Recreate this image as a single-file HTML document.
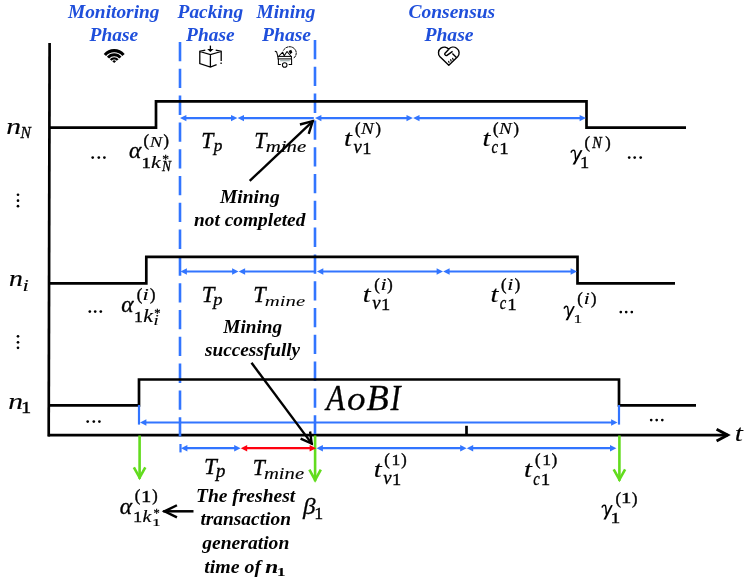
<!DOCTYPE html>
<html><head><meta charset="utf-8"><style>
html,body{margin:0;padding:0;background:#fff;}
svg{display:block;} text{} .g{opacity:0.999;}
</style></head><body>
<svg width="747" height="583" viewBox="0 0 747 583">
<rect width="747" height="583" fill="#fff"/>
<g class="g">
<line x1="49.6" y1="43" x2="48.7" y2="436.4" stroke="#000" stroke-width="2.7" />
<line x1="48.2" y1="435.1" x2="728" y2="435.1" stroke="#000" stroke-width="2.7" />
<polyline points="716.59,429.18 727.71,435.10 716.59,441.02" fill="none" stroke="#000" stroke-width="2.9" stroke-linecap="butt" stroke-linejoin="miter"/>
<line x1="466.5" y1="425.8" x2="466.5" y2="435" stroke="#000" stroke-width="2.7" />
<line x1="180" y1="42" x2="180" y2="436.7" stroke="#3275FF" stroke-width="2.6" stroke-dasharray="19.3 7.5"/>
<line x1="315.0" y1="40" x2="315.0" y2="434.0" stroke="#3275FF" stroke-width="2.6" stroke-dasharray="19.3 7.5"/>
<polyline points="49,127.7 156,127.7 156,101.3 586.5,101.3 586.5,127.7 686,127.7" fill="none" stroke="#000" stroke-width="2.7" stroke-linejoin="miter" />
<polyline points="49,283.3 146.3,283.3 146.3,256.8 577.5,256.8 577.5,283.3 675,283.3" fill="none" stroke="#000" stroke-width="2.7" stroke-linejoin="miter" />
<polyline points="49,405.3 139,405.3 139,379.5 619,379.5 619,405.3 696,405.3" fill="none" stroke="#000" stroke-width="2.7" stroke-linejoin="miter" />
<line x1="139.6" y1="435.5" x2="139.6" y2="478.8" stroke="#62DC1E" stroke-width="2.6" />
<polyline points="145.32,467.30 139.60,477.62 133.88,467.30" fill="none" stroke="#62DC1E" stroke-width="2.6" stroke-linecap="butt" stroke-linejoin="miter"/>
<line x1="315.1" y1="435.5" x2="315.1" y2="481.2" stroke="#62DC1E" stroke-width="2.6" />
<polyline points="320.82,469.70 315.10,480.02 309.38,469.70" fill="none" stroke="#62DC1E" stroke-width="2.6" stroke-linecap="butt" stroke-linejoin="miter"/>
<line x1="619.4" y1="435.5" x2="619.4" y2="480.8" stroke="#62DC1E" stroke-width="2.6" />
<polyline points="625.12,469.30 619.40,479.62 613.68,469.30" fill="none" stroke="#62DC1E" stroke-width="2.6" stroke-linecap="butt" stroke-linejoin="miter"/>
<line x1="185.5" y1="118.1" x2="231.9" y2="118.1" stroke="#3275FF" stroke-width="2.2" />
<polygon points="180,118.1 186.4,114.89999999999999 186.4,121.3" fill="#3275FF"/>
<polygon points="237.4,118.1 231.0,114.89999999999999 231.0,121.3" fill="#3275FF"/>
<line x1="243.1" y1="118.1" x2="313.8" y2="118.1" stroke="#3275FF" stroke-width="2.2" />
<polygon points="237.6,118.1 244.0,114.89999999999999 244.0,121.3" fill="#3275FF"/>
<line x1="320.5" y1="118.1" x2="407.4" y2="118.1" stroke="#3275FF" stroke-width="2.2" />
<polygon points="315,118.1 321.4,114.89999999999999 321.4,121.3" fill="#3275FF"/>
<polygon points="412.9,118.1 406.5,114.89999999999999 406.5,121.3" fill="#3275FF"/>
<line x1="418.6" y1="118.1" x2="580.5" y2="118.1" stroke="#3275FF" stroke-width="2.2" />
<polygon points="413.1,118.1 419.5,114.89999999999999 419.5,121.3" fill="#3275FF"/>
<polygon points="586,118.1 579.6,114.89999999999999 579.6,121.3" fill="#3275FF"/>
<line x1="186.0" y1="271.5" x2="233.0" y2="271.5" stroke="#3275FF" stroke-width="2.2" />
<polygon points="180.5,271.5 186.9,268.3 186.9,274.7" fill="#3275FF"/>
<polygon points="238.5,271.5 232.1,268.3 232.1,274.7" fill="#3275FF"/>
<line x1="244.2" y1="271.5" x2="315" y2="271.5" stroke="#3275FF" stroke-width="2.2" />
<polygon points="238.7,271.5 245.1,268.3 245.1,274.7" fill="#3275FF"/>
<line x1="322.4" y1="271.5" x2="437.5" y2="271.5" stroke="#3275FF" stroke-width="2.2" />
<polygon points="316.9,271.5 323.29999999999995,268.3 323.29999999999995,274.7" fill="#3275FF"/>
<polygon points="443,271.5 436.6,268.3 436.6,274.7" fill="#3275FF"/>
<line x1="448.7" y1="271.5" x2="571.5" y2="271.5" stroke="#3275FF" stroke-width="2.2" />
<polygon points="443.2,271.5 449.59999999999997,268.3 449.59999999999997,274.7" fill="#3275FF"/>
<polygon points="577,271.5 570.6,268.3 570.6,274.7" fill="#3275FF"/>
<line x1="139" y1="405" x2="139" y2="424.6" stroke="#3275FF" stroke-width="2.2" />
<line x1="619" y1="405" x2="619" y2="424.6" stroke="#3275FF" stroke-width="2.2" />
<line x1="145.5" y1="422.5" x2="612.0" y2="422.5" stroke="#3275FF" stroke-width="2.2" />
<polygon points="140,422.5 146.4,419.3 146.4,425.7" fill="#3275FF"/>
<polygon points="617.5,422.5 611.1,419.3 611.1,425.7" fill="#3275FF"/>
<line x1="180.5" y1="444" x2="180.5" y2="452.4" stroke="#3275FF" stroke-width="2.2" />
<line x1="186.5" y1="448.2" x2="235.1" y2="448.2" stroke="#3275FF" stroke-width="2.2" />
<polygon points="181,448.2 187.4,445.0 187.4,451.4" fill="#3275FF"/>
<polygon points="240.6,448.2 234.2,445.0 234.2,451.4" fill="#3275FF"/>
<line x1="246.3" y1="448.2" x2="310.5" y2="448.2" stroke="#FF0010" stroke-width="2.2" />
<polygon points="240.8,448.2 247.20000000000002,445.0 247.20000000000002,451.4" fill="#FF0010"/>
<polygon points="316,448.2 309.6,445.0 309.6,451.4" fill="#FF0010"/>
<line x1="322.0" y1="448.2" x2="461.1" y2="448.2" stroke="#3275FF" stroke-width="2.2" />
<polygon points="316.5,448.2 322.9,445.0 322.9,451.4" fill="#3275FF"/>
<polygon points="466.6,448.2 460.20000000000005,445.0 460.20000000000005,451.4" fill="#3275FF"/>
<line x1="472.3" y1="448.2" x2="610.9" y2="448.2" stroke="#3275FF" stroke-width="2.2" />
<polygon points="466.8,448.2 473.2,445.0 473.2,451.4" fill="#3275FF"/>
<polygon points="616.4,448.2 610.0,445.0 610.0,451.4" fill="#3275FF"/>
<line x1="249.7" y1="180.9" x2="313.4111592863802" y2="120.53171018234963" stroke="#000" stroke-width="2.4" />
<polyline points="299.92,124.50 312.70,121.20 308.72,133.79" fill="none" stroke="#000" stroke-width="2.4" stroke-linecap="butt" stroke-linejoin="miter"/>
<line x1="251.5" y1="362.8" x2="312.30372307190663" y2="444.39721669941446" stroke="#000" stroke-width="2.4" />
<polyline points="310.09,431.53 311.72,443.62 300.60,438.59" fill="none" stroke="#000" stroke-width="2.4" stroke-linecap="butt" stroke-linejoin="miter"/>
<line x1="193.5" y1="511.3" x2="163.2" y2="511.3" stroke="#000" stroke-width="2.5" />
<polyline points="176.95,517.35 164.55,511.30 176.95,505.25" fill="none" stroke="#000" stroke-width="2.5" stroke-linecap="butt" stroke-linejoin="miter"/>
<circle cx="92.7" cy="157.6" r="1.35" fill="#000"/>
<circle cx="98.8" cy="157.6" r="1.35" fill="#000"/>
<circle cx="104.4" cy="157.6" r="1.35" fill="#000"/>
<circle cx="89.8" cy="311.6" r="1.35" fill="#000"/>
<circle cx="95.2" cy="311.6" r="1.35" fill="#000"/>
<circle cx="100.8" cy="311.6" r="1.35" fill="#000"/>
<circle cx="87.7" cy="421.6" r="1.35" fill="#000"/>
<circle cx="93.8" cy="421.6" r="1.35" fill="#000"/>
<circle cx="99.4" cy="421.6" r="1.35" fill="#000"/>
<circle cx="629.2" cy="157.6" r="1.35" fill="#000"/>
<circle cx="634.7" cy="157.6" r="1.35" fill="#000"/>
<circle cx="640.7" cy="157.6" r="1.35" fill="#000"/>
<circle cx="620.8" cy="312.1" r="1.35" fill="#000"/>
<circle cx="626.2" cy="312.1" r="1.35" fill="#000"/>
<circle cx="631.8" cy="312.1" r="1.35" fill="#000"/>
<circle cx="651.2" cy="420.1" r="1.35" fill="#000"/>
<circle cx="656.7" cy="420.1" r="1.35" fill="#000"/>
<circle cx="662.3" cy="420.1" r="1.35" fill="#000"/>
<circle cx="18" cy="194.75" r="1.35" fill="#000"/>
<circle cx="18" cy="200.7" r="1.35" fill="#000"/>
<circle cx="18" cy="206.2" r="1.35" fill="#000"/>
<circle cx="18" cy="336.3" r="1.35" fill="#000"/>
<circle cx="18" cy="342.3" r="1.35" fill="#000"/>
<circle cx="18" cy="347.8" r="1.35" fill="#000"/>
<text transform="translate(67.94,17.90) scale(0.989,1)" font-family="Liberation Serif" font-size="19.60" font-style="italic" font-weight="bold" fill="#1F4FDB" >Monitoring</text>
<text transform="translate(89.50,40.90) scale(0.995,1)" font-family="Liberation Serif" font-size="19.60" font-style="italic" font-weight="bold" fill="#1F4FDB" >Phase</text>
<text transform="translate(177.60,17.70) scale(0.988,1)" font-family="Liberation Serif" font-size="19.60" font-style="italic" font-weight="bold" fill="#1F4FDB" >Packing</text>
<text transform="translate(186.10,40.80) scale(0.991,1)" font-family="Liberation Serif" font-size="19.60" font-style="italic" font-weight="bold" fill="#1F4FDB" >Phase</text>
<text transform="translate(256.54,17.70) scale(0.984,1)" font-family="Liberation Serif" font-size="19.60" font-style="italic" font-weight="bold" fill="#1F4FDB" >Mining</text>
<text transform="translate(262.00,40.80) scale(1.001,1)" font-family="Liberation Serif" font-size="19.60" font-style="italic" font-weight="bold" fill="#1F4FDB" >Phase</text>
<text transform="translate(408.42,17.50) scale(0.996,1)" font-family="Liberation Serif" font-size="19.60" font-style="italic" font-weight="bold" fill="#1F4FDB" >Consensus</text>
<text transform="translate(424.40,40.80) scale(1.005,1)" font-family="Liberation Serif" font-size="19.60" font-style="italic" font-weight="bold" fill="#1F4FDB" >Phase</text>
<text transform="translate(219.94,203.00) scale(1.003,1)" font-family="Liberation Serif" font-size="19.50" font-style="italic" font-weight="bold" fill="#000" >Mining</text>
<text transform="translate(194.11,225.90) scale(0.993,1)" font-family="Liberation Serif" font-size="19.50" font-style="italic" font-weight="bold" fill="#000" >not completed</text>
<text transform="translate(223.34,333.00) scale(0.988,1)" font-family="Liberation Serif" font-size="19.50" font-style="italic" font-weight="bold" fill="#000" >Mining</text>
<text transform="translate(205.10,355.90) scale(0.986,1)" font-family="Liberation Serif" font-size="19.50" font-style="italic" font-weight="bold" fill="#000" >successfully</text>
<text transform="translate(195.98,501.90) scale(1.001,1)" font-family="Liberation Serif" font-size="19.50" font-style="italic" font-weight="bold" fill="#000" >The freshest</text>
<text transform="translate(200.42,525.00) scale(0.995,1)" font-family="Liberation Serif" font-size="19.50" font-style="italic" font-weight="bold" fill="#000" >transaction</text>
<text transform="translate(202.14,548.60) scale(1.006,1)" font-family="Liberation Serif" font-size="19.50" font-style="italic" font-weight="bold" fill="#000" >generation</text>
<text transform="translate(204.20,572.80) scale(1.019,1)" font-family="Liberation Serif" font-size="19.50" font-style="italic" font-weight="bold" fill="#000" >time of</text>
<text transform="translate(265.23,572.90) scale(1.308,1)" font-family="Liberation Serif" font-size="17.87" font-style="italic" font-weight="bold" fill="#000" stroke="#000" stroke-width="0.07" >n</text>
<text transform="translate(276.86,575.90) scale(1.520,1)" font-family="Liberation Serif" font-size="11.82" font-style="normal" font-weight="bold" fill="#000" stroke="#000" stroke-width="0.00" >1</text>
<text transform="translate(6.16,133.70) scale(1.231,1)" font-family="Liberation Serif" font-size="24.04" font-style="italic" font-weight="normal" fill="#000" stroke="#000" stroke-width="0.14" >n</text>
<text transform="translate(20.62,137.70) scale(0.980,1)" font-family="Liberation Serif" font-size="15.88" font-style="italic" font-weight="normal" fill="#000" stroke="#000" stroke-width="0.35" >N</text>
<text transform="translate(9.03,286.10) scale(1.162,1)" font-family="Liberation Serif" font-size="23.83" font-style="italic" font-weight="normal" fill="#000" stroke="#000" stroke-width="0.20" >n</text>
<text transform="translate(22.44,290.90) scale(1.305,1)" font-family="Liberation Serif" font-size="17.51" font-style="italic" font-weight="normal" fill="#000" stroke="#000" stroke-width="0.08" >i</text>
<text transform="translate(8.16,408.70) scale(1.231,1)" font-family="Liberation Serif" font-size="24.04" font-style="italic" font-weight="normal" fill="#000" stroke="#000" stroke-width="0.14" >n</text>
<text transform="translate(21.11,412.70) scale(1.248,1)" font-family="Liberation Serif" font-size="16.36" font-style="normal" font-weight="normal" fill="#000" stroke="#000" stroke-width="0.35" >1</text>
<text transform="translate(128.90,158.27) scale(1.018,1)" font-family="Liberation Serif" font-size="23.01" font-style="italic" font-weight="normal" fill="#000" stroke="#000" stroke-width="0.33" >α</text>
<text transform="translate(143.56,146.26) scale(1.017,1)" font-family="Liberation Serif" font-size="16.20" font-style="normal" font-weight="normal" fill="#000" stroke="#000" stroke-width="0.45" >(</text>
<text transform="translate(163.47,146.26) scale(1.007,1)" font-family="Liberation Serif" font-size="16.20" font-style="normal" font-weight="normal" fill="#000" stroke="#000" stroke-width="0.45" >)</text>
<text transform="translate(149.64,146.50) scale(1.228,1)" font-family="Liberation Serif" font-size="15.27" font-style="italic" font-weight="normal" fill="#000" stroke="#000" stroke-width="0.14" >N</text>
<text transform="translate(141.46,167.80) scale(1.287,1)" font-family="Liberation Serif" font-size="14.55" font-style="normal" font-weight="normal" fill="#000" stroke="#000" stroke-width="0.35" >1</text>
<text transform="translate(150.95,167.80) scale(1.229,1)" font-family="Liberation Serif" font-size="17.70" font-style="italic" font-weight="normal" fill="#000" stroke="#000" stroke-width="0.14" >k</text>
<text transform="translate(162.13,163.30) scale(1.079,1)" font-family="Liberation Serif" font-size="12.52" font-style="normal" font-weight="normal" fill="#000" stroke="#000" stroke-width="0.28" >*</text>
<text transform="translate(162.10,170.90) scale(0.949,1)" font-family="Liberation Serif" font-size="14.20" font-style="italic" font-weight="normal" fill="#000" stroke="#000" stroke-width="0.35" >N</text>
<text transform="translate(121.30,312.47) scale(1.009,1)" font-family="Liberation Serif" font-size="23.21" font-style="italic" font-weight="normal" fill="#000" stroke="#000" stroke-width="0.34" >α</text>
<text transform="translate(136.66,300.10) scale(0.946,1)" font-family="Liberation Serif" font-size="17.41" font-style="normal" font-weight="normal" fill="#000" stroke="#000" stroke-width="0.45" >(</text>
<text transform="translate(150.07,300.10) scale(0.937,1)" font-family="Liberation Serif" font-size="17.41" font-style="normal" font-weight="normal" fill="#000" stroke="#000" stroke-width="0.45" >)</text>
<text transform="translate(142.26,299.60) scale(1.498,1)" font-family="Liberation Serif" font-size="16.30" font-style="italic" font-weight="normal" fill="#000" stroke="#000" stroke-width="0.00" >i</text>
<text transform="translate(133.96,321.60) scale(1.197,1)" font-family="Liberation Serif" font-size="14.70" font-style="normal" font-weight="normal" fill="#000" stroke="#000" stroke-width="0.35" >1</text>
<text transform="translate(143.35,321.60) scale(1.219,1)" font-family="Liberation Serif" font-size="17.84" font-style="italic" font-weight="normal" fill="#000" stroke="#000" stroke-width="0.15" >k</text>
<text transform="translate(154.18,317.18) scale(0.977,1)" font-family="Liberation Serif" font-size="12.79" font-style="normal" font-weight="normal" fill="#000" stroke="#000" stroke-width="0.35" >*</text>
<text transform="translate(153.29,325.40) scale(1.342,1)" font-family="Liberation Serif" font-size="15.09" font-style="italic" font-weight="normal" fill="#000" stroke="#000" stroke-width="0.04" >i</text>
<text transform="translate(119.70,513.57) scale(1.018,1)" font-family="Liberation Serif" font-size="23.01" font-style="italic" font-weight="normal" fill="#000" stroke="#000" stroke-width="0.33" >α</text>
<text transform="translate(134.66,501.46) scale(0.990,1)" font-family="Liberation Serif" font-size="16.64" font-style="normal" font-weight="normal" fill="#000" stroke="#000" stroke-width="0.45" >(</text>
<text transform="translate(152.27,501.46) scale(0.980,1)" font-family="Liberation Serif" font-size="16.64" font-style="normal" font-weight="normal" fill="#000" stroke="#000" stroke-width="0.45" >)</text>
<text transform="translate(140.99,501.90) scale(1.314,1)" font-family="Liberation Serif" font-size="15.76" font-style="normal" font-weight="normal" fill="#000" stroke="#000" stroke-width="0.35" >1</text>
<text transform="translate(133.09,522.00) scale(1.205,1)" font-family="Liberation Serif" font-size="15.30" font-style="normal" font-weight="normal" fill="#000" stroke="#000" stroke-width="0.35" >1</text>
<text transform="translate(142.60,522.00) scale(1.191,1)" font-family="Liberation Serif" font-size="16.69" font-style="italic" font-weight="normal" fill="#000" stroke="#000" stroke-width="0.18" >k</text>
<text transform="translate(153.38,517.09) scale(1.094,1)" font-family="Liberation Serif" font-size="11.43" font-style="normal" font-weight="normal" fill="#000" stroke="#000" stroke-width="0.27" >*</text>
<text transform="translate(152.06,525.80) scale(1.590,1)" font-family="Liberation Serif" font-size="11.06" font-style="normal" font-weight="normal" fill="#000" stroke="#000" stroke-width="0.18" >1</text>
<text transform="translate(201.28,147.70) scale(0.931,1)" font-family="Liberation Serif" font-size="23.44" font-style="italic" font-weight="normal" fill="#000" stroke="#000" stroke-width="0.35" >T</text>
<text transform="translate(213.69,151.36) scale(0.981,1)" font-family="Liberation Serif" font-size="17.58" font-style="italic" font-weight="normal" fill="#000" stroke="#000" stroke-width="0.35" >p</text>
<text transform="translate(254.17,147.70) scale(0.942,1)" font-family="Liberation Serif" font-size="23.36" font-style="italic" font-weight="normal" fill="#000" stroke="#000" stroke-width="0.35" >T</text>
<text transform="translate(265.72,151.53) scale(1.198,1)" font-family="Liberation Serif" font-size="17.40" font-style="italic" font-weight="normal" fill="#000" stroke="#000" stroke-width="0.17" >mine</text>
<text transform="translate(201.72,302.20) scale(0.992,1)" font-family="Liberation Serif" font-size="22.90" font-style="italic" font-weight="normal" fill="#000" stroke="#000" stroke-width="0.35" >T</text>
<text transform="translate(213.27,305.26) scale(1.057,1)" font-family="Liberation Serif" font-size="17.58" font-style="italic" font-weight="normal" fill="#000" stroke="#000" stroke-width="0.30" >p</text>
<text transform="translate(253.25,302.20) scale(0.977,1)" font-family="Liberation Serif" font-size="22.90" font-style="italic" font-weight="normal" fill="#000" stroke="#000" stroke-width="0.35" >T</text>
<text transform="translate(264.72,305.84) scale(1.332,1)" font-family="Liberation Serif" font-size="15.61" font-style="italic" font-weight="normal" fill="#000" stroke="#000" stroke-width="0.05" >mine</text>
<text transform="translate(204.00,473.80) scale(1.036,1)" font-family="Liberation Serif" font-size="22.29" font-style="italic" font-weight="normal" fill="#000" stroke="#000" stroke-width="0.32" >T</text>
<text transform="translate(215.88,477.38) scale(0.993,1)" font-family="Liberation Serif" font-size="18.90" font-style="italic" font-weight="normal" fill="#000" stroke="#000" stroke-width="0.35" >p</text>
<text transform="translate(252.78,474.70) scale(0.972,1)" font-family="Liberation Serif" font-size="22.44" font-style="italic" font-weight="normal" fill="#000" stroke="#000" stroke-width="0.35" >T</text>
<text transform="translate(263.92,479.04) scale(1.265,1)" font-family="Liberation Serif" font-size="16.36" font-style="italic" font-weight="normal" fill="#000" stroke="#000" stroke-width="0.11" >mine</text>
<text transform="translate(343.92,146.36) scale(1.206,1)" font-family="Liberation Serif" font-size="23.65" font-style="italic" font-weight="normal" fill="#000" stroke="#000" stroke-width="0.16" >t</text>
<text transform="translate(354.96,133.95) scale(0.958,1)" font-family="Liberation Serif" font-size="17.19" font-style="normal" font-weight="normal" fill="#000" stroke="#000" stroke-width="0.45" >(</text>
<text transform="translate(375.47,133.95) scale(0.949,1)" font-family="Liberation Serif" font-size="17.19" font-style="normal" font-weight="normal" fill="#000" stroke="#000" stroke-width="0.45" >)</text>
<text transform="translate(361.04,133.50) scale(1.219,1)" font-family="Liberation Serif" font-size="15.73" font-style="italic" font-weight="normal" fill="#000" stroke="#000" stroke-width="0.15" >N</text>
<text transform="translate(353.42,153.41) scale(0.982,1)" font-family="Liberation Serif" font-size="18.94" font-style="italic" font-weight="normal" fill="#000" stroke="#000" stroke-width="0.35" >v</text>
<text transform="translate(362.19,153.60) scale(1.159,1)" font-family="Liberation Serif" font-size="15.91" font-style="normal" font-weight="normal" fill="#000" stroke="#000" stroke-width="0.35" >1</text>
<text transform="translate(482.42,146.36) scale(1.206,1)" font-family="Liberation Serif" font-size="23.65" font-style="italic" font-weight="normal" fill="#000" stroke="#000" stroke-width="0.16" >t</text>
<text transform="translate(492.96,133.95) scale(0.958,1)" font-family="Liberation Serif" font-size="17.19" font-style="normal" font-weight="normal" fill="#000" stroke="#000" stroke-width="0.45" >(</text>
<text transform="translate(513.47,133.95) scale(0.949,1)" font-family="Liberation Serif" font-size="17.19" font-style="normal" font-weight="normal" fill="#000" stroke="#000" stroke-width="0.45" >)</text>
<text transform="translate(499.04,133.50) scale(1.219,1)" font-family="Liberation Serif" font-size="15.73" font-style="italic" font-weight="normal" fill="#000" stroke="#000" stroke-width="0.15" >N</text>
<text transform="translate(491.56,153.41) scale(0.791,1)" font-family="Liberation Serif" font-size="18.54" font-style="italic" font-weight="normal" fill="#000" stroke="#000" stroke-width="0.35" >c</text>
<text transform="translate(499.14,153.60) scale(1.195,1)" font-family="Liberation Serif" font-size="15.91" font-style="normal" font-weight="normal" fill="#000" stroke="#000" stroke-width="0.35" >1</text>
<text transform="translate(362.72,302.36) scale(1.206,1)" font-family="Liberation Serif" font-size="23.65" font-style="italic" font-weight="normal" fill="#000" stroke="#000" stroke-width="0.16" >t</text>
<text transform="translate(374.26,289.95) scale(0.958,1)" font-family="Liberation Serif" font-size="17.19" font-style="normal" font-weight="normal" fill="#000" stroke="#000" stroke-width="0.45" >(</text>
<text transform="translate(387.27,289.95) scale(0.949,1)" font-family="Liberation Serif" font-size="17.19" font-style="normal" font-weight="normal" fill="#000" stroke="#000" stroke-width="0.45" >)</text>
<text transform="translate(380.57,290.30) scale(1.265,1)" font-family="Liberation Serif" font-size="17.66" font-style="italic" font-weight="normal" fill="#000" stroke="#000" stroke-width="0.11" >i</text>
<text transform="translate(372.22,309.41) scale(0.982,1)" font-family="Liberation Serif" font-size="18.94" font-style="italic" font-weight="normal" fill="#000" stroke="#000" stroke-width="0.35" >v</text>
<text transform="translate(380.99,309.60) scale(1.159,1)" font-family="Liberation Serif" font-size="15.91" font-style="normal" font-weight="normal" fill="#000" stroke="#000" stroke-width="0.35" >1</text>
<text transform="translate(490.62,302.36) scale(1.206,1)" font-family="Liberation Serif" font-size="23.65" font-style="italic" font-weight="normal" fill="#000" stroke="#000" stroke-width="0.16" >t</text>
<text transform="translate(501.06,289.95) scale(0.958,1)" font-family="Liberation Serif" font-size="17.19" font-style="normal" font-weight="normal" fill="#000" stroke="#000" stroke-width="0.45" >(</text>
<text transform="translate(514.77,289.95) scale(0.949,1)" font-family="Liberation Serif" font-size="17.19" font-style="normal" font-weight="normal" fill="#000" stroke="#000" stroke-width="0.45" >)</text>
<text transform="translate(507.37,290.30) scale(1.265,1)" font-family="Liberation Serif" font-size="17.66" font-style="italic" font-weight="normal" fill="#000" stroke="#000" stroke-width="0.11" >i</text>
<text transform="translate(499.76,309.41) scale(0.791,1)" font-family="Liberation Serif" font-size="18.54" font-style="italic" font-weight="normal" fill="#000" stroke="#000" stroke-width="0.35" >c</text>
<text transform="translate(507.34,309.60) scale(1.195,1)" font-family="Liberation Serif" font-size="15.91" font-style="normal" font-weight="normal" fill="#000" stroke="#000" stroke-width="0.35" >1</text>
<text transform="translate(373.82,477.36) scale(1.206,1)" font-family="Liberation Serif" font-size="23.65" font-style="italic" font-weight="normal" fill="#000" stroke="#000" stroke-width="0.16" >t</text>
<text transform="translate(384.36,464.95) scale(0.958,1)" font-family="Liberation Serif" font-size="17.19" font-style="normal" font-weight="normal" fill="#000" stroke="#000" stroke-width="0.45" >(</text>
<text transform="translate(401.27,464.95) scale(0.949,1)" font-family="Liberation Serif" font-size="17.19" font-style="normal" font-weight="normal" fill="#000" stroke="#000" stroke-width="0.45" >)</text>
<text transform="translate(391.46,464.70) scale(1.161,1)" font-family="Liberation Serif" font-size="15.15" font-style="normal" font-weight="normal" fill="#000" stroke="#000" stroke-width="0.35" >1</text>
<text transform="translate(383.32,484.41) scale(0.982,1)" font-family="Liberation Serif" font-size="18.94" font-style="italic" font-weight="normal" fill="#000" stroke="#000" stroke-width="0.35" >v</text>
<text transform="translate(392.09,484.60) scale(1.159,1)" font-family="Liberation Serif" font-size="15.91" font-style="normal" font-weight="normal" fill="#000" stroke="#000" stroke-width="0.35" >1</text>
<text transform="translate(524.12,477.46) scale(1.206,1)" font-family="Liberation Serif" font-size="23.65" font-style="italic" font-weight="normal" fill="#000" stroke="#000" stroke-width="0.16" >t</text>
<text transform="translate(535.06,465.05) scale(0.958,1)" font-family="Liberation Serif" font-size="17.19" font-style="normal" font-weight="normal" fill="#000" stroke="#000" stroke-width="0.45" >(</text>
<text transform="translate(551.67,465.05) scale(0.949,1)" font-family="Liberation Serif" font-size="17.19" font-style="normal" font-weight="normal" fill="#000" stroke="#000" stroke-width="0.45" >)</text>
<text transform="translate(542.16,464.80) scale(1.161,1)" font-family="Liberation Serif" font-size="15.15" font-style="normal" font-weight="normal" fill="#000" stroke="#000" stroke-width="0.35" >1</text>
<text transform="translate(533.26,484.51) scale(0.791,1)" font-family="Liberation Serif" font-size="18.54" font-style="italic" font-weight="normal" fill="#000" stroke="#000" stroke-width="0.35" >c</text>
<text transform="translate(540.84,484.70) scale(1.195,1)" font-family="Liberation Serif" font-size="15.91" font-style="normal" font-weight="normal" fill="#000" stroke="#000" stroke-width="0.35" >1</text>
<path d="M571.15,152.12 C571.97,150.42 573.37,149.81 574.31,150.42 C575.48,151.35 575.13,154.89 575.71,159.05" fill="none" stroke="#000" stroke-width="1.45" stroke-linecap="round"/>
<path d="M580.63,149.96 L582.50,150.27 L575.01,164.44 L572.55,164.44 Z" fill="#000"/>
<text transform="translate(579.89,167.70) scale(1.137,1)" font-family="Liberation Serif" font-size="16.21" font-style="normal" font-weight="normal" fill="#000" stroke="#000" stroke-width="0.35" >1</text>
<text transform="translate(584.46,148.20) scale(0.946,1)" font-family="Liberation Serif" font-size="17.41" font-style="normal" font-weight="normal" fill="#000" stroke="#000" stroke-width="0.45" >(</text>
<text transform="translate(605.17,148.20) scale(0.937,1)" font-family="Liberation Serif" font-size="17.41" font-style="normal" font-weight="normal" fill="#000" stroke="#000" stroke-width="0.45" >)</text>
<text transform="translate(592.21,147.80) scale(0.910,1)" font-family="Liberation Serif" font-size="15.73" font-style="italic" font-weight="normal" fill="#000" stroke="#000" stroke-width="0.35" >N</text>
<path d="M564.23,308.17 C565.00,306.51 566.32,305.90 567.20,306.51 C568.30,307.41 567.97,310.88 568.52,314.96" fill="none" stroke="#000" stroke-width="1.45" stroke-linecap="round"/>
<path d="M573.14,306.05 L574.90,306.36 L567.86,320.25 L565.55,320.25 Z" fill="#000"/>
<text transform="translate(573.39,322.70) scale(1.283,1)" font-family="Liberation Serif" font-size="13.48" font-style="normal" font-weight="normal" fill="#000" stroke="#000" stroke-width="0.18" >1</text>
<text transform="translate(577.16,303.92) scale(0.952,1)" font-family="Liberation Serif" font-size="17.30" font-style="normal" font-weight="normal" fill="#000" stroke="#000" stroke-width="0.45" >(</text>
<text transform="translate(591.07,303.92) scale(0.943,1)" font-family="Liberation Serif" font-size="17.30" font-style="normal" font-weight="normal" fill="#000" stroke="#000" stroke-width="0.45" >)</text>
<text transform="translate(583.51,303.90) scale(1.408,1)" font-family="Liberation Serif" font-size="16.60" font-style="italic" font-weight="normal" fill="#000" stroke="#000" stroke-width="0.00" >i</text>
<path d="M602.13,507.12 C602.90,505.42 604.22,504.81 605.10,505.42 C606.20,506.35 605.87,509.89 606.42,514.05" fill="none" stroke="#000" stroke-width="1.45" stroke-linecap="round"/>
<path d="M611.04,504.96 L612.80,505.27 L605.76,519.44 L603.45,519.44 Z" fill="#000"/>
<text transform="translate(610.39,522.60) scale(1.254,1)" font-family="Liberation Serif" font-size="15.61" font-style="normal" font-weight="normal" fill="#000" stroke="#000" stroke-width="0.35" >1</text>
<text transform="translate(615.46,503.66) scale(0.990,1)" font-family="Liberation Serif" font-size="16.64" font-style="normal" font-weight="normal" fill="#000" stroke="#000" stroke-width="0.45" >(</text>
<text transform="translate(632.07,503.66) scale(0.980,1)" font-family="Liberation Serif" font-size="16.64" font-style="normal" font-weight="normal" fill="#000" stroke="#000" stroke-width="0.45" >)</text>
<text transform="translate(620.89,503.40) scale(1.381,1)" font-family="Liberation Serif" font-size="15.00" font-style="normal" font-weight="normal" fill="#000" stroke="#000" stroke-width="0.35" >1</text>
<text transform="translate(302.98,514.06) scale(1.105,1)" font-family="Liberation Serif" font-size="22.78" font-style="italic" font-weight="normal" fill="#000" stroke="#000" stroke-width="0.26" >β</text>
<text transform="translate(314.24,518.90) scale(1.134,1)" font-family="Liberation Serif" font-size="15.76" font-style="normal" font-weight="normal" fill="#000" stroke="#000" stroke-width="0.35" >1</text>
<text transform="translate(326.28,410.10) scale(0.838,1)" font-family="Liberation Serif" font-size="36.52" font-style="italic" font-weight="normal" fill="#000" stroke="#000" stroke-width="0.35" >A</text>
<text transform="translate(346.99,409.75) scale(1.071,1)" font-family="Liberation Serif" font-size="34.58" font-style="italic" font-weight="normal" fill="#000" stroke="#000" stroke-width="0.29" >o</text>
<text transform="translate(366.44,410.01) scale(0.993,1)" font-family="Liberation Serif" font-size="36.65" font-style="italic" font-weight="normal" fill="#000" stroke="#000" stroke-width="0.35" >B</text>
<text transform="translate(390.38,410.10) scale(0.826,1)" font-family="Liberation Serif" font-size="36.79" font-style="italic" font-weight="normal" fill="#000" stroke="#000" stroke-width="0.35" >I</text>
<text transform="translate(734.68,440.86) scale(1.239,1)" font-family="Liberation Serif" font-size="23.65" font-style="italic" font-weight="normal" fill="#000" stroke="#000" stroke-width="0.13" >t</text>
<path d="M104.88,54.90 A12.35,12.35 0 0 1 123.52,54.90" fill="none" stroke="#000" stroke-width="3.1"/>
<path d="M108.01,57.62 A8.2,8.2 0 0 1 120.39,57.62" fill="none" stroke="#000" stroke-width="3.0"/>
<path d="M110.73,59.98 A4.6,4.6 0 0 1 117.67,59.98" fill="none" stroke="#000" stroke-width="2.4"/>
<path d="M114.2,63.0 L112.31,61.36 A2.5,2.5 0 0 1 116.09,61.36 Z" fill="#000"/>
<path d="M205.3,50.1 L199.8,51.3 L199.8,63.6 L210.4,67 L216.6,64.6 M221.2,61.0 L221.2,51.3 L215.7,50.1 M199.8,51.5 L210.4,54.6 L221.2,51.5 M210.4,54.6 L210.4,67" fill="none" stroke="#000" stroke-width="1.3" stroke-linejoin="miter"/>
<line x1="221.1" y1="62.6" x2="221.1" y2="64.0" stroke="#000" stroke-width="1.3"/>
<line x1="210.4" y1="45.6" x2="210.4" y2="49.5" stroke="#000" stroke-width="1.3"/>
<polygon points="207.2,48.9 213.6,48.9 210.4,52.0" fill="#000"/>
<path d="M275.2,51.3 L276.6,51.9 L277.9,56.6" fill="none" stroke="#000" stroke-width="1.05" stroke-linecap="round"/>
<rect x="278.0" y="56.4" width="13.4" height="2.5" fill="none" stroke="#000" stroke-width="1.05"/>
<path d="M278.4,59.0 L278.4,64.4 L280.8,64.4 M288.7,64.4 L291.6,64.4 L291.6,59.0" fill="none" stroke="#000" stroke-width="1.05"/>
<path d="M280.2,60.7 L289.8,60.7" fill="none" stroke="#9aa" stroke-width="1.1"/>
<circle cx="284.7" cy="65.0" r="2.3" fill="none" stroke="#000" stroke-width="1.05"/>
<path d="M278.9,56.0 L282.7,52.2 L284.3,56.0 M284.1,56.0 L287.0,51.5 L290.8,56.0" fill="none" stroke="#000" stroke-width="1.05" stroke-linejoin="round"/>
<path d="M283.3,50.6 C285.0,47.2 289.5,45.6 293.0,47.6 C296.8,49.8 297.6,55.0 293.6,58.2" fill="none" stroke="#000" stroke-width="1.0" stroke-dasharray="3 0.45"/>
<path d="M288.6,50.9 L291.2,49.8 L292.4,52.6 L290.2,54.3 Z" fill="#000"/>
<path d="M448.7,49.2 C446.8,46.9 443.6,46.4 441.0,48.2 C438.0,50.3 437.7,54.2 440.0,56.8 L448.8,65.2 L457.6,56.8 C459.9,54.2 459.6,50.3 456.6,48.2 C454.0,46.4 450.6,46.9 448.7,49.2" fill="none" stroke="#000" stroke-width="1.4" stroke-linejoin="round"/>
<path d="M448.6,49.6 L444.8,53.6 C444.4,54.2 445.4,55.8 446.6,55.6 L452.6,51.4 M452.4,53.6 L456.4,57.4" fill="none" stroke="#000" stroke-width="1.4" stroke-linejoin="round"/>
<path d="M448.5,60.9 L449.2,62.9 M450.5,59.3 L451.3,61.5 M452.5,57.9 L453.3,60.1" fill="none" stroke="#000" stroke-width="1.2"/>
</g>
</svg>
</body></html>
